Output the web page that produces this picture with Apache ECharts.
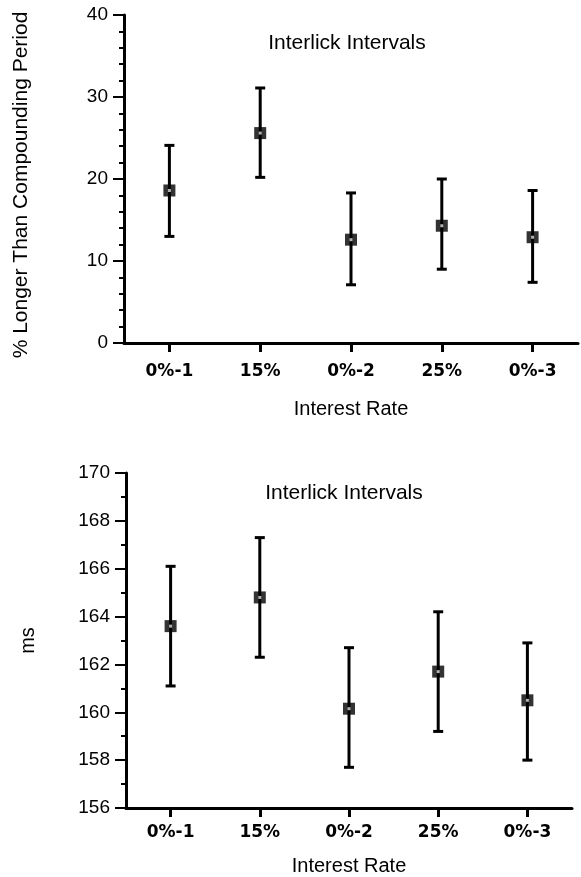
<!DOCTYPE html>
<html>
<head>
<meta charset="utf-8">
<script src="https://cdn.jsdelivr.net/npm/echarts@6/dist/echarts.min.js"></script>
<style>
html,body{margin:0;padding:0;background:#fff;}
#chart{width:581px;height:877px;}
</style>
</head>
<body>
<div id="chart"></div>
<script>
var categories = ['0%-1', '15%', '0%-2', '25%', '0%-3'];
var pctMean  = [18.6, 25.6, 12.6, 14.3, 12.9];
var pctUpper = [24.1, 31.1, 18.3, 20.0, 18.6];
var pctLower = [13.0, 20.2, 7.1, 9.0, 7.4];
var msMean  = [163.6, 164.8, 160.15, 161.7, 160.5];
var msUpper = [166.1, 167.3, 162.7, 164.2, 162.9];
var msLower = [161.1, 162.3, 157.7, 159.2, 158.0];
var pctTicks = [0, 40, 10];
var msTicks = [156, 170, 2];
var titleText = 'Interlick Intervals';
var xName = 'Interest Rate';
var yName1 = '% Longer Than Compounding Period';
var yName2 = 'ms';

var FONT = 'Liberation Sans, Arial, Helvetica, sans-serif';
var chart = echarts.init(document.getElementById('chart'), null, {renderer: 'canvas'});

function errData(lo, hi) {
  return categories.map(function (c, i) { return [i, lo[i], hi[i]]; });
}
function renderErr(params, api) {
  var x = api.value(0);
  var lo = api.coord([x, api.value(1)]);
  var hi = api.coord([x, api.value(2)]);
  var hw = 5;
  var st = {stroke: '#000', lineWidth: 3, fill: null};
  return {
    type: 'group',
    children: [
      {type: 'line', shape: {x1: lo[0], y1: lo[1], x2: hi[0], y2: hi[1]}, style: st},
      {type: 'line', shape: {x1: lo[0] - hw, y1: lo[1], x2: lo[0] + hw, y2: lo[1]}, style: st},
      {type: 'line', shape: {x1: hi[0] - hw, y1: hi[1], x2: hi[0] + hw, y2: hi[1]}, style: st}
    ]
  };
}
function xAxis(idx, gap, nameGap) {
  return {
    type: 'category', gridIndex: idx, data: categories, boundaryGap: true,
    axisLine: {show: true, lineStyle: {color: '#000', width: 3}},
    axisTick: {show: true, alignWithLabel: true, length: 9, lineStyle: {color: '#000', width: 3}},
    axisLabel: {color: '#000', fontFamily: 'DejaVu Sans', fontWeight: 'bold', fontSize: 17, margin: gap},
    splitLine: {show: false},
    name: xName, nameLocation: 'middle', nameGap: nameGap,
    nameTextStyle: {color: '#000', fontFamily: FONT, fontSize: 20}
  };
}
function yAxis(idx, t, minorSplit, name, nameGap, fs, pad) {
  return {
    type: 'value', gridIndex: idx, min: t[0], max: t[1], interval: t[2],
    axisLine: {show: true, lineStyle: {color: '#000', width: 3}},
    axisTick: {show: true, length: 11, lineStyle: {color: '#000', width: 2}},
    minorTick: {show: true, splitNumber: minorSplit, length: 5, lineStyle: {color: '#000', width: 2}},
    axisLabel: {color: '#000', fontFamily: FONT, fontSize: 19, margin: 16},
    splitLine: {show: false},
    minorSplitLine: {show: false},
    name: name, nameLocation: 'middle', nameGap: nameGap, nameRotate: 90,
    nameTextStyle: {color: '#000', fontFamily: FONT, fontSize: fs, padding: pad}
  };
}

var option = {
  backgroundColor: '#fff',
  animation: false,
  title: [
    {text: titleText, left: 347, top: 33, textAlign: 'center', padding: 0,
     textStyle: {color: '#000', fontFamily: FONT, fontSize: 21, fontWeight: 'normal'}},
    {text: titleText, left: 344, top: 483, textAlign: 'center', padding: 0,
     textStyle: {color: '#000', fontFamily: FONT, fontSize: 21, fontWeight: 'normal'}}
  ],
  grid: [
    {left: 124, right: 3, top: 15, height: 328},
    {left: 126, right: 9, top: 473, height: 335}
  ],
  xAxis: [xAxis(0, 20, 56), xAxis(1, 16, 48)],
  yAxis: [yAxis(0, pctTicks, 5, yName1, 92, 21, [0, 12, 0, 0]), yAxis(1, msTicks, 2, yName2, 88, 20, [0, 0, 0, 0])],
  series: [
    {type: 'custom', xAxisIndex: 0, yAxisIndex: 0, data: errData(pctLower, pctUpper), renderItem: renderErr, z: 2},
    {type: 'scatter', xAxisIndex: 0, yAxisIndex: 0, data: pctMean, symbol: 'rect', symbolSize: 12,
     itemStyle: {color: '#000'}, z: 3},
    {type: 'scatter', xAxisIndex: 0, yAxisIndex: 0, data: pctMean, symbol: 'rect', symbolSize: 3,
     itemStyle: {color: '#ddd'}, z: 4, silent: true},
    {type: 'custom', xAxisIndex: 1, yAxisIndex: 1, data: errData(msLower, msUpper), renderItem: renderErr, z: 2},
    {type: 'scatter', xAxisIndex: 1, yAxisIndex: 1, data: msMean, symbol: 'rect', symbolSize: 12,
     itemStyle: {color: '#000'}, z: 3},
    {type: 'scatter', xAxisIndex: 1, yAxisIndex: 1, data: msMean, symbol: 'rect', symbolSize: 3,
     itemStyle: {color: '#ddd'}, z: 4, silent: true}
  ]
};
chart.setOption(option);
</script>
</body>
</html>
